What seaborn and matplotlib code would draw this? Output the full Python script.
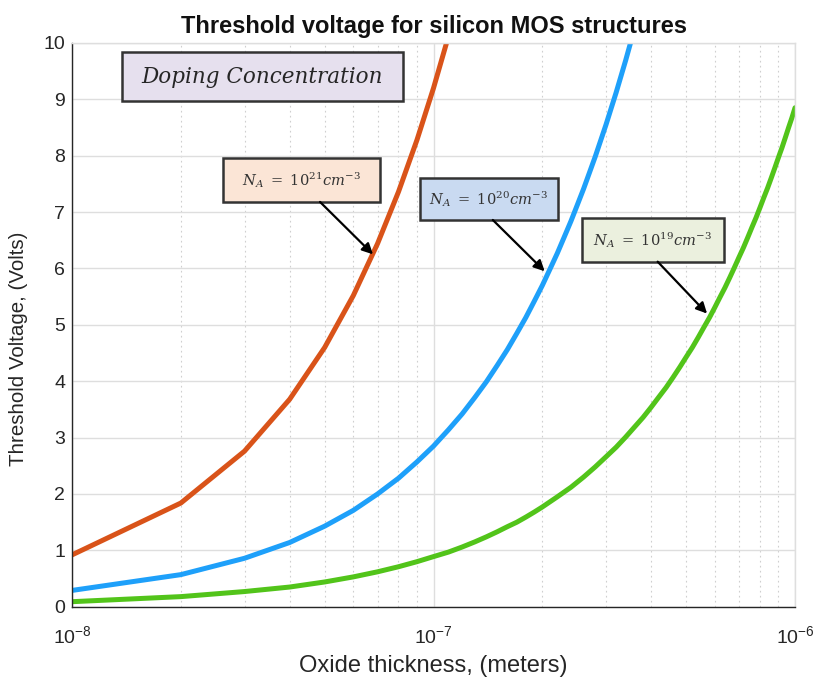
import numpy as np
import pandas as pd
import matplotlib
matplotlib.use("Agg")
import matplotlib.pyplot as plt
from matplotlib.patches import FancyBboxPatch
from matplotlib.ticker import LogLocator, NullFormatter
import seaborn as sns

# Oxide thickness samples (nm) and threshold voltages (V) per doping level
tox_nm_1e21 = list(range(10, 120, 10))
vt_1e21 = [0.92, 1.84, 2.76, 3.68, 4.60, 5.52, 6.44, 7.36, 8.28, 9.20, 10.12]

tox_nm_1e20 = list(range(10, 370, 10))
vt_1e20 = [0.29, 0.57, 0.86, 1.14, 1.43, 1.71, 2.00, 2.28, 2.57, 2.85,
           3.14, 3.42, 3.71, 3.99, 4.28, 4.56, 4.85, 5.13, 5.42, 5.70,
           5.99, 6.27, 6.56, 6.84, 7.13, 7.41, 7.70, 7.98, 8.27, 8.55,
           8.84, 9.12, 9.41, 9.69, 9.98, 10.26]

tox_nm_1e19 = list(range(10, 210, 10)) + list(range(220, 1020, 20))
vt_1e19 = [0.09, 0.18, 0.27, 0.35, 0.44, 0.53, 0.62, 0.71, 0.80, 0.89,
           0.97, 1.06, 1.15, 1.24, 1.33, 1.42, 1.50, 1.59, 1.68, 1.77,
           1.95, 2.12, 2.30, 2.48, 2.66, 2.83, 3.01, 3.19, 3.36, 3.54,
           3.72, 3.89, 4.07, 4.25, 4.43, 4.60, 4.78, 4.96, 5.13, 5.31,
           5.49, 5.66, 5.84, 6.02, 6.20, 6.37, 6.55, 6.73, 6.90, 7.08,
           7.26, 7.43, 7.61, 7.79, 7.97, 8.14, 8.32, 8.50, 8.67, 8.85]

series_names = ["1e21", "1e20", "1e19"]
series_colors = ["#D95319", "#1EA0FA", "#52C41A"]
y_ticks = list(range(0, 11))

df = pd.concat([
    pd.DataFrame({"tox_nm": tox_nm_1e21, "vt": vt_1e21, "NA": series_names[0]}),
    pd.DataFrame({"tox_nm": tox_nm_1e20, "vt": vt_1e20, "NA": series_names[1]}),
    pd.DataFrame({"tox_nm": tox_nm_1e19, "vt": vt_1e19, "NA": series_names[2]}),
], ignore_index=True)
df["tox"] = df["tox_nm"] * 1e-9

sns.set_style("white")
plt.rcParams["font.family"] = ["Liberation Sans", "DejaVu Sans"]
plt.rcParams["axes.unicode_minus"] = False

fig = plt.figure(figsize=(8.13, 6.81), dpi=100)
ax = fig.add_axes([0.0886, 0.109, 0.8893, 0.828])

sns.lineplot(data=df, x="tox", y="vt", hue="NA", palette=dict(zip(series_names, series_colors)),
             linewidth=3.6, legend=False, sort=False, estimator=None, ax=ax)

ax.set_xscale("log")
ax.set_xlim(1e-8, 1e-6)
ax.set_ylim(0, 10)
ax.set_yticks(y_ticks)
ax.xaxis.set_minor_locator(LogLocator(base=10, subs=np.arange(2, 10)))
ax.xaxis.set_minor_formatter(NullFormatter())

# grid: solid majors, dotted minors
ax.grid(True, which="major", color="#dedede", linewidth=1.0, linestyle="-")
ax.grid(True, which="minor", axis="x", color="#cfcfcf", linewidth=0.8, linestyle=(0, (1.5, 3)))
ax.set_axisbelow(True)

for side in ["left", "bottom"]:
    ax.spines[side].set_color("#262626")
    ax.spines[side].set_linewidth(1.0)
for side in ["top", "right"]:
    ax.spines[side].set_color("#dedede")
    ax.spines[side].set_linewidth(1.0)

ax.tick_params(axis="both", which="major", direction="in", length=5, width=0.9,
               colors="#262626", labelsize=14, top=False, right=False, pad=5)
ax.tick_params(axis="x", which="minor", direction="in", length=3, width=0.8,
               colors="#262626", top=False)
ax.tick_params(axis="x", which="major", pad=13)

ax.set_xlabel("Oxide thickness, (meters)", fontsize=17, color="#262626", labelpad=6)
ax.set_ylabel("Threshold Voltage, (Volts)", fontsize=14.8, color="#262626")
ax.yaxis.set_label_coords(-0.061, 0.457)
ax.set_title("Threshold voltage for silicon MOS structures", fontsize=17,
             fontweight="bold", color="#111111", pad=7)

# boxed labels
def box(x0, y0, x1, y1, face):
    p = FancyBboxPatch((x0, y1), x1 - x0, y0 - y1, boxstyle="square,pad=0",
                       transform=ax.transAxes, facecolor=face, edgecolor="#333333",
                       linewidth=1.8, zorder=5, clip_on=False)
    ax.add_patch(p)

box(0.069, 0.984, 0.458, 0.897, "#E6E0EE")
ax.text(0.263, 0.940, "Doping Concentration", transform=ax.transAxes, ha="center",
        va="center", fontsize=15.5, family="DejaVu Serif", style="italic",
        color="#262626", zorder=6)

labels = [
    (r"$N_A\ =\ 10^{21}cm^{-3}$", (0.209, 0.796, 0.426, 0.718), "#FBE5D6",
     (0.343, 0.718), (6.8e-8, 6.25)),
    (r"$N_A\ =\ 10^{20}cm^{-3}$", (0.481, 0.761, 0.672, 0.686), "#C9DAF1",
     (0.582, 0.686), (2.03e-7, 5.95)),
    (r"$N_A\ =\ 10^{19}cm^{-3}$", (0.705, 0.690, 0.902, 0.612), "#EBF0DE",
     (0.810, 0.612), (5.71e-7, 5.2)),
]
for txt, (x0, y0, x1, y1), face, tail, tip in labels:
    box(x0, y0, x1, y1, face)
    ax.text((x0 + x1) / 2, (y0 + y1) / 2, txt, transform=ax.transAxes, ha="center",
            va="center", fontsize=10.5, math_fontfamily="dejavuserif", color="#333333",
            zorder=6)
    ax.annotate("", xy=tip, xycoords="data", xytext=tail, textcoords="axes fraction",
                arrowprops=dict(arrowstyle="-|>", color="black", lw=1.6,
                                mutation_scale=16, shrinkA=0, shrinkB=0), zorder=6)

fig.savefig("out.png", dpi=100)
